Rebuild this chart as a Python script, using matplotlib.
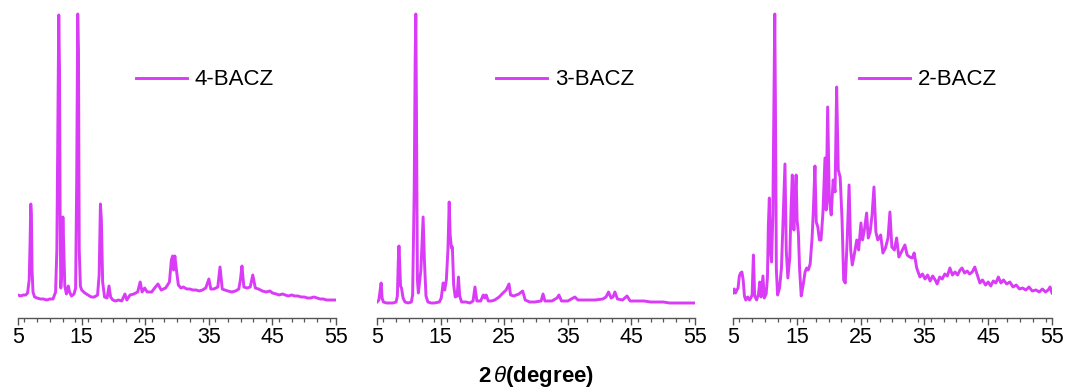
"""
XRD patterns of 4-BACZ, 3-BACZ and 2-BACZ
"""
import matplotlib
matplotlib.use('Agg')
import matplotlib.pyplot as plt
from matplotlib.ticker import MultipleLocator

plt.rcParams['font.family'] = ['Liberation Sans', 'DejaVu Sans']
plt.rcParams['mathtext.fontset'] = 'custom'
plt.rcParams['mathtext.it'] = 'Liberation Sans:italic'
plt.rcParams['mathtext.bf'] = 'Liberation Sans:bold'
plt.rcParams['mathtext.rm'] = 'Liberation Sans'

# --- data (2theta, intensity a.u.) ---
tt_4bacz = [5.0, 5.4, 5.8, 6.2, 6.5, 6.75, 6.9, 7.0, 7.1, 7.2, 7.35, 7.6, 8.0, 8.5, 9.0, 9.5,
            10.0, 10.5, 10.9, 11.1, 11.28, 11.4, 11.52, 11.62, 11.72, 11.9, 12.05, 12.2, 12.35,
            12.6, 12.9, 13.1, 13.4, 13.8, 14.05, 14.22, 14.38, 14.5, 14.62, 14.8, 15.0, 15.5,
            16.0, 16.5, 17.0, 17.5, 17.75, 17.95, 18.1, 18.3, 18.6, 19.0, 19.3, 19.55, 19.9,
            20.3, 20.8, 21.3, 21.8, 22.1, 22.6, 23.2, 23.8, 24.2, 24.5, 24.9, 25.3, 26.0, 26.6,
            27.0, 27.5, 28.2, 28.8, 29.1, 29.3, 29.45, 29.65, 29.9, 30.2, 30.6, 31.0, 31.5,
            32.0, 32.5, 33.0, 33.5, 34.0, 34.5, 35.0, 35.3, 35.8, 36.4, 36.75, 37.1, 37.5,
            38.0, 38.6, 39.2, 39.7, 39.95, 40.2, 40.5, 41.0, 41.5, 41.9, 42.3, 42.8, 43.4,
            44.0, 44.6, 45.0, 45.6, 46.0, 46.6, 47.0, 47.5, 48.0, 48.5, 49.0, 49.5, 50.0,
            50.5, 51.0, 51.5, 52.0, 52.5, 53.0, 53.5, 54.0, 54.5, 55.0]
int_4bacz = [15, 14, 15, 15, 17, 30, 70, 106, 95, 40, 18, 13, 12, 11, 11, 10,
             11, 11, 18, 60, 200, 295, 240, 90, 22, 40, 93, 60, 24,
             16, 24, 18, 14, 16, 22, 130, 296, 260, 60, 24, 20, 17,
             15, 13, 13, 15, 35, 106, 90, 28, 13, 12, 24, 13, 10,
             9, 10, 9, 16, 10, 15, 16, 18, 28, 18, 22, 18, 18, 23,
             26, 20, 22, 28, 50, 54, 40, 54, 40, 25, 22, 23, 21,
             21, 20, 20, 19, 20, 22, 31, 21, 21, 23, 43, 21, 20,
             19, 18, 19, 21, 30, 44, 23, 22, 23, 35, 22, 21, 19,
             18, 19, 17, 16, 15, 16, 15, 14, 15, 14, 14, 13, 13,
             12, 12, 13, 12, 11, 11, 10, 10, 10, 10]

tt_3bacz = [5.0, 5.3, 5.5, 5.65, 5.8, 6.0, 6.5, 7.0, 7.5, 8.0, 8.2, 8.35, 8.45, 8.55, 8.7,
            8.85, 9.1, 9.4, 9.9, 10.4, 10.6, 10.85, 11.0, 11.1, 11.2, 11.35, 11.5, 11.9,
            12.25, 12.45, 12.7, 13.0, 13.5, 14.0, 14.8, 15.1, 15.4, 15.65, 15.9, 16.15,
            16.35, 16.5, 16.7, 16.85, 17.05, 17.3, 17.6, 17.8, 18.0, 18.3, 19.0, 19.6, 20.1,
            20.4, 20.7, 21.3, 21.7, 21.95, 22.15, 22.5, 23.0, 23.5, 24.2, 24.8, 25.3, 25.75,
            26.0, 26.5, 27.3, 27.9, 28.3, 29.0, 29.8, 30.8, 31.1, 31.4, 32.5, 33.3, 33.6,
            34.0, 35.0, 36.1, 36.6, 37.5, 38.4, 39.3, 40.5, 41.0, 41.4, 41.8, 42.1, 42.4,
            42.8, 43.6, 44.3, 44.8, 46.0, 47.0, 48.0, 49.0, 50.0, 51.0, 52.0, 53.0, 54.0, 55.0]
int_3bacz = [8, 10, 20, 27, 12, 8, 7, 7, 7, 8, 14, 50, 64, 50, 24,
             22, 12, 8, 7, 8, 15, 120, 250, 296, 200, 30, 17, 40,
             93, 50, 14, 8, 7, 7, 8, 12, 27, 20, 30, 60,
             108, 75, 62, 63, 25, 13, 14, 33, 14, 8, 8, 7, 9,
             23, 9, 9, 15, 12, 15, 9, 9, 10, 13, 17, 20, 26,
             15, 14, 16, 19, 10, 8, 8, 9, 16, 9, 9, 12, 15,
             9, 9, 13, 10, 10, 10, 10, 11, 13, 18, 12, 13, 18,
             11, 10, 14, 9, 9, 9, 8, 8, 8, 7, 7, 7, 7, 7]

tt_2bacz = [5.0, 5.2, 5.4, 5.6, 5.8, 6.0, 6.2, 6.4, 6.6, 6.8, 7.0, 7.3, 7.6, 7.8, 8.0, 8.2,
            8.4, 8.7, 9.0, 9.2, 9.4, 9.7, 9.9, 10.2, 10.4, 10.55, 10.7, 10.85, 11.05, 11.25,
            11.45, 11.55, 11.65, 11.8, 12.0, 12.3, 12.6, 12.9, 13.15, 13.35, 13.6, 13.9, 14.1,
            14.3, 14.55, 14.7, 14.9, 15.05, 15.25, 15.45, 15.7, 16.0, 16.3, 16.55, 16.8, 17.1,
            17.4, 17.6, 17.85, 18.05, 18.3, 18.55, 18.8, 19.1, 19.42, 19.6, 19.84, 20.1, 20.4,
            20.7, 21.0, 21.25, 21.5, 21.8, 22.1, 22.35, 22.6, 22.9, 23.2, 23.45, 23.7, 24.0,
            24.4, 24.7, 25.06, 25.3, 25.6, 25.95, 26.2, 26.5, 26.8, 27.1, 27.4, 27.7, 28.15,
            28.5, 28.9, 29.3, 29.6, 29.9, 30.3, 30.65, 31.0, 31.4, 31.95, 32.3, 32.7, 33.1,
            33.4, 33.8, 34.3, 34.7, 35.1, 35.5, 35.9, 36.3, 36.7, 37.0, 37.4, 37.8, 38.2,
            38.6, 39.0, 39.4, 39.8, 40.2, 40.6, 40.9, 41.3, 41.7, 42.1, 42.5, 42.9, 43.3,
            43.7, 44.1, 44.6, 45.0, 45.4, 45.8, 46.2, 46.6, 47.0, 47.4, 47.9, 48.4, 48.9,
            49.4, 49.9, 50.4, 50.9, 51.4, 51.9, 52.5, 53.0, 53.5, 54.0, 54.4, 54.7, 55.0]
int_2bacz = [17, 21, 17, 20, 22, 34, 37, 38, 30, 14, 10, 13, 10, 12, 15, 55,
             14, 10, 16, 28, 13, 34, 12, 16, 32, 85, 112, 60, 48, 95,
             230, 296, 210, 40, 15, 22, 42, 100, 146, 60, 32, 52, 100,
             135, 80, 110, 135, 90, 77, 40, 14, 25, 38, 42, 40, 46,
             72, 100, 144, 88, 83, 70, 70, 97, 152, 100, 203, 110, 95,
             130, 118, 223, 140, 133, 90, 30, 27, 70, 125, 60, 45, 55,
             70, 60, 87, 70, 80, 97, 72, 78, 95, 123, 78, 70, 75,
             57, 62, 72, 98, 63, 60, 72, 53, 58, 65, 55, 53, 52,
             57, 42, 33, 36, 31, 35, 29, 34, 30, 26, 33, 31, 36,
             34, 42, 35, 38, 35, 40, 42, 37, 39, 36, 38, 43, 35,
             27, 30, 25, 28, 24, 29, 27, 33, 27, 30, 26, 28, 23,
             25, 21, 22, 20, 23, 19, 20, 18, 21, 18, 20, 23, 17]

labels = ['4-BACZ', '3-BACZ', '2-BACZ']
line_color = '#D93BF7'

fig = plt.figure(figsize=(10.68, 3.87), dpi=100)

# axes boxes in figure fractions
lefts = [0.0169, 0.3530, 0.6863]
widths = [0.2978, 0.2978, 0.2987]
leg_x = [0.371, 0.374, 0.395]
series = [(tt_4bacz, int_4bacz), (tt_3bacz, int_3bacz), (tt_2bacz, int_2bacz)]

for i, (tt, inten) in enumerate(series):
    ax = fig.add_axes([lefts[i], 0.1783, widths[i], 0.7959])
    ax.plot(tt, inten, color=line_color, linewidth=2.1, label=labels[i])
    ax.set_xlim(5, 55)
    ax.set_ylim(-8, 300)
    for side in ['top', 'right', 'left']:
        ax.spines[side].set_visible(False)
    ax.spines['bottom'].set_color('#555555')
    ax.spines['bottom'].set_linewidth(1.0)
    ax.set_yticks([])
    ax.xaxis.set_major_locator(MultipleLocator(10))
    ax.xaxis.set_minor_locator(MultipleLocator(2))
    ax.set_xticks(range(5, 56, 10))
    # ticks hang below the axis line
    ax.tick_params(axis='x', which='major', direction='out', length=5, width=1.0,
                   color='#555555', labelsize=15.5, pad=1.5)
    ax.tick_params(axis='x', which='minor', direction='out', length=3, width=0.9,
                   color='#555555')
    ax.legend(loc='center left', bbox_to_anchor=(leg_x[i], 0.773), frameon=False,
              fontsize=16, handlelength=2.3, handletextpad=0.35,
              borderpad=0, borderaxespad=0)

fig.text(0.502, 0.028, r'$\mathbf{2}\,\mathit{\theta}$(degree)', ha='center', va='center',
         fontsize=16, fontweight='bold')

plt.savefig('out.png', dpi=100)
plt.close()
